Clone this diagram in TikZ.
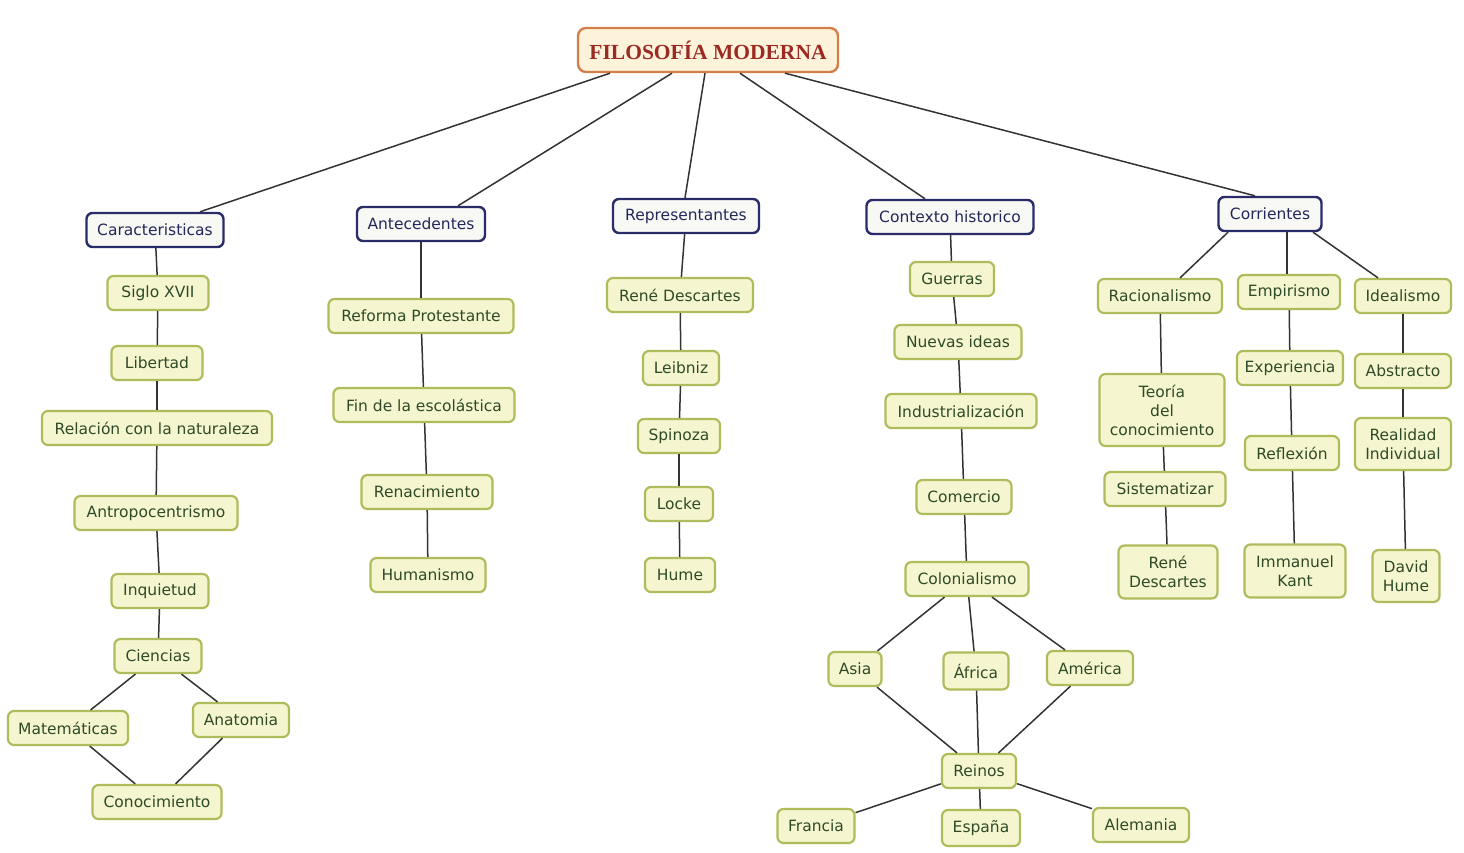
\documentclass[tikz,border=0pt]{standalone}
\usepackage{fontspec}
\setmainfont{DejaVu Sans}
\newfontfamily\titlefont{Liberation Serif}
\usetikzlibrary{calc}
\definecolor{gfill}{HTML}{F5F6CF}
\definecolor{gdraw}{HTML}{B0BB5C}
\definecolor{gtext}{HTML}{2F4A28}
\definecolor{bdraw}{HTML}{2A2C6A}
\definecolor{bfill}{HTML}{F8F8F4}
\definecolor{btext}{HTML}{23285A}
\definecolor{tdraw}{HTML}{D08048}
\definecolor{tfill}{HTML}{FDF3DA}
\definecolor{ttext}{HTML}{9A2A22}
\definecolor{edgecol}{HTML}{333333}
\begin{document}
\begin{tikzpicture}[x=1pt,y=-1pt,
  gn/.style={draw=gdraw, fill=gfill, text=gtext, line width=2.2, rounded corners=6,
    minimum height=34, inner sep=0, font=\fontsize{15.5}{19}\selectfont, align=center},
  bn/.style={draw=bdraw, fill=bfill, text=btext, line width=2.4, rounded corners=6,
    minimum height=34, inner sep=0, font=\fontsize{15.5}{19}\selectfont, align=center},
  tn/.style={draw=tdraw, fill=tfill, text=ttext, line width=2.4, rounded corners=8,
    minimum height=44, minimum width=260, inner sep=0,
    font=\titlefont\bfseries\fontsize{21.5}{24}\selectfont},
  ln/.style={draw=edgecol, line width=1.5}]
\fill[white] (0,0) rectangle (1464,852);
\useasboundingbox (0,0) rectangle (1464,852);

% title
\node[tn] (title) at (708,50) {FILOSOFÍA MODERNA};

% level 1
\node[bn, minimum width=137] (car) at (155,230) {Caracteristicas};
\node[bn, minimum width=128] (ant) at (421,224) {Antecedentes};
\node[bn, minimum width=146] (rep) at (686,216) {Representantes};
\node[bn, minimum width=167] (ctx) at (950,217) {Contexto historico};
\node[bn, minimum width=103] (cor) at (1270,214) {Corrientes};

% column 1
\node[gn, minimum width=101] (s17) at (158,293) {Siglo XVII};
\node[gn, minimum width=91] (lib) at (157,363) {Libertad};
\node[gn, minimum width=230] (rel) at (157,428) {Relación con la naturaleza};
\node[gn, minimum width=163] (antr) at (156,513) {Antropocentrismo};
\node[gn, minimum width=97] (inq) at (160,591) {Inquietud};
\node[gn, minimum width=87] (cie) at (158,656) {Ciencias};
\node[gn, minimum width=120] (mat) at (68,728) {Matemáticas};
\node[gn, minimum width=96] (ana) at (241,720) {Anatomia};
\node[gn, minimum width=129] (con) at (157,802) {Conocimiento};

% column 2
\node[gn, minimum width=185] (ref) at (421,316) {Reforma Protestante};
\node[gn, minimum width=181] (fin) at (424,405) {Fin de la escolástica};
\node[gn, minimum width=131] (ren) at (427,492) {Renacimiento};
\node[gn, minimum width=115] (hum) at (428,575) {Humanismo};

% column 3
\node[gn, minimum width=146] (des) at (680,295) {René Descartes};
\node[gn, minimum width=76] (lei) at (681,368) {Leibniz};
\node[gn, minimum width=82] (spi) at (679,436) {Spinoza};
\node[gn, minimum width=68] (loc) at (679,504) {Locke};
\node[gn, minimum width=70] (hume) at (680,575) {Hume};

% column 4
\node[gn, minimum width=84] (gue) at (952,279) {Guerras};
\node[gn, minimum width=127] (nue) at (958,342) {Nuevas ideas};
\node[gn, minimum width=151] (ind) at (961,411) {Industrialización};
\node[gn, minimum width=95] (com) at (964,497) {Comercio};
\node[gn, minimum width=123] (col) at (967,579) {Colonialismo};
\node[gn, minimum width=53] (asia) at (855,669) {Asia};
\node[gn, minimum width=65, minimum height=37] (afr) at (976,671) {África};
\node[gn, minimum width=86] (ame) at (1090,668) {América};
\node[gn, minimum width=74] (rei) at (979,771) {Reinos};
\node[gn, minimum width=77] (fra) at (816,826) {Francia};
\node[gn, minimum width=78, minimum height=36] (esp) at (981,828) {España};
\node[gn, minimum width=96] (ale) at (1141,825) {Alemania};

% column 5
\node[gn, minimum width=124] (rac) at (1160,296) {Racionalismo};
\node[gn, minimum width=102] (emp) at (1289,292) {Empirismo};
\node[gn, minimum width=96] (ide) at (1403,296) {Idealismo};
\node[gn, minimum width=125, minimum height=72] (teo) at (1162,410) {Teoría\\del\\conocimiento};
\node[gn, minimum width=121] (sis) at (1165,489) {Sistematizar};
\node[gn, minimum width=99, minimum height=53] (des2) at (1168,572) {René\\Descartes};
\node[gn, minimum width=106] (exp) at (1290,368) {Experiencia};
\node[gn, minimum width=94] (refl) at (1292,453) {Reflexión};
\node[gn, minimum width=101, minimum height=53] (kant) at (1295,571) {Immanuel\\Kant};
\node[gn, minimum width=96] (abs) at (1403,371) {Abstracto};
\node[gn, minimum width=96, minimum height=52] (rea) at (1403,444) {Realidad\\Individual};
\node[gn, minimum width=67, minimum height=52] (dav) at (1406,576) {David\\Hume};

% connectors from title
\draw[ln] ($(title.south)+(-98,0)$) -- ($(car.north)+(45,0)$);
\draw[ln] ($(title.south)+(-36,0)$) -- ($(ant.north)+(37,0)$);
\draw[ln] ($(title.south)+(-3,0)$) -- ($(rep.north)+(-1,0)$);
\draw[ln] ($(title.south)+(32,0)$) -- ($(ctx.north)+(-25,0)$);
\draw[ln] ($(title.south)+(77,0)$) -- ($(cor.north)+(-15,0)$);

% column 1
\draw[ln] (car) -- (s17);
\draw[ln] (s17) -- (lib);
\draw[ln] (lib) -- (rel);
\draw[ln] (rel) -- (antr);
\draw[ln] (antr) -- (inq);
\draw[ln] (inq) -- (cie);
\draw[ln] (cie) -- (mat);
\draw[ln] (cie) -- (ana);
\draw[ln] (mat) -- (con);
\draw[ln] (ana) -- (con);

% column 2
\draw[ln] (ant) -- (ref);
\draw[ln] (ref) -- (fin);
\draw[ln] (fin) -- (ren);
\draw[ln] (ren) -- (hum);

% column 3
\draw[ln] (rep) -- (des);
\draw[ln] (des) -- (lei);
\draw[ln] (lei) -- (spi);
\draw[ln] (spi) -- (loc);
\draw[ln] (loc) -- (hume);

% column 4
\draw[ln] (ctx) -- (gue);
\draw[ln] (gue) -- (nue);
\draw[ln] (nue) -- (ind);
\draw[ln] (ind) -- (com);
\draw[ln] (com) -- (col);
\draw[ln] (col) -- (asia);
\draw[ln] (col) -- (afr);
\draw[ln] (col) -- (ame);
\draw[ln] (asia) -- (rei);
\draw[ln] (afr) -- (rei);
\draw[ln] (ame) -- (rei);
\draw[ln] (rei) -- (fra);
\draw[ln] (rei) -- (esp);
\draw[ln] (rei) -- (ale);

% column 5
\draw[ln] ($(cor.south)+(-42,0)$) -- ($(rac.north)+(20,0)$);
\draw[ln] ($(cor.south)+(17,0)$) -- ($(emp.north)+(-2,0)$);
\draw[ln] ($(cor.south)+(43,0)$) -- ($(ide.north)+(-25,0)$);
\draw[ln] (rac) -- (teo);
\draw[ln] (teo) -- (sis);
\draw[ln] (sis) -- (des2);
\draw[ln] (emp) -- (exp);
\draw[ln] (exp) -- (refl);
\draw[ln] (refl) -- (kant);
\draw[ln] (ide) -- (abs);
\draw[ln] (abs) -- (rea);
\draw[ln] (rea) -- (dav);
\end{tikzpicture}
\end{document}
